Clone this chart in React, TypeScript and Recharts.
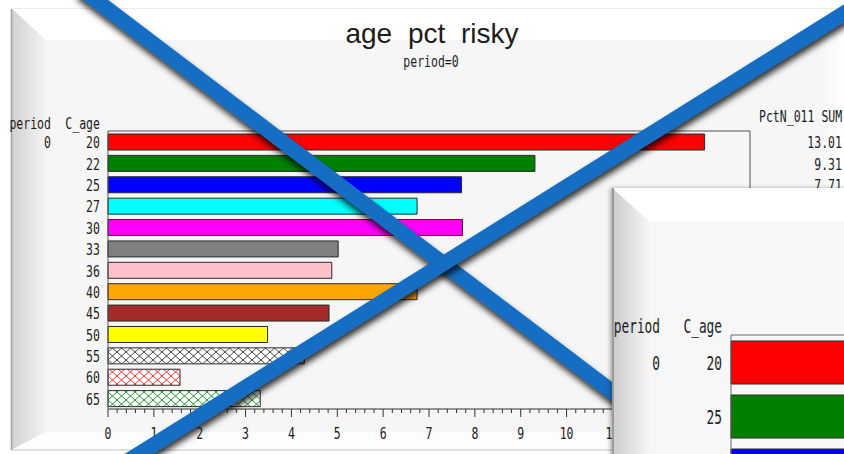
import React from 'react';
import { BarChart, Bar, XAxis, YAxis, Cell } from 'recharts';

// ---------- data ----------
const ages = ['20', '22', '25', '27', '30', '33', '36', '40', '45', '50', '55', '60', '65'];
const pctRisky = [13.01, 9.31, 7.71, 6.74, 7.73, 5.02, 4.88, 6.74, 4.82, 3.48, 4.28, 1.57, 3.32];
const barFills = [
  '#ff0000', '#008000', '#0000ff', '#00ffff', '#ff00ff', '#808080', '#ffc0cb',
  '#ffa500', '#a52a2a', '#ffff00', 'url(#hatchBlack)', 'url(#hatchRed)', 'url(#hatchGreen)',
];
const periods = ['0'];
const majorTicks = [0, 1, 2, 3, 4, 5, 6, 7, 8, 9, 10, 11, 12, 13, 14];
const minorPerMajor = 5;

const zoomAges = ['20', '25', '30'];
const zoomPct = [12.2, 8.4, 7.1];
const zoomFills = ['#ff0000', '#008000', '#0000ff'];

const title = 'age pct risky';
const subtitle = 'period=0';
const statHeader = 'PctN_011 SUM';

// ---------- helpers ----------
const MONO = "'DejaVu Sans Mono', monospace";
const allTicks: number[] = [];
majorTicks.forEach((t, i) => {
  if (i === majorTicks.length - 1) { allTicks.push(t); return; }
  for (let k = 0; k < minorPerMajor; k++) allTicks.push(Math.round((t + k / minorPerMajor) * 1000) / 1000);
});

const rows = ages.map((a, i) => ({ age: a, pct: pctRisky[i] }));
const zoomRows = zoomAges.map((a, i) => ({ age: a, pct: zoomPct[i] }));

function CText(props: { x: number; y: number; anchor?: string; size?: number; sx?: number; fill?: string; children: any }) {
  const { x, y, anchor = 'end', size = 16, sx = 0.72, fill = '#1c1c1c', children } = props;
  return (
    <text
      transform={`translate(${x},${y}) scale(${sx},1)`}
      textAnchor={anchor as any}
      fontFamily={MONO}
      fontSize={size}
      fill={fill}
    >
      {children}
    </text>
  );
}

const LeftTick = (p: any) => {
  const { x, y, payload, index } = p;
  return (
    <g>
      <CText x={x - 8} y={y + 6.5}>{payload.value}</CText>
      {index === 0 && <CText x={51} y={y + 6.5}>{periods[0]}</CText>}
    </g>
  );
};

const RightTick = (p: any) => {
  const { x, y, index } = p;
  return <CText x={x + 92} y={y + 6.5}>{pctRisky[index].toFixed(2)}</CText>;
};

const BottomTick = (p: any) => {
  const { x, y, payload } = p;
  const v = payload.value as number;
  const major = Math.abs(v - Math.round(v)) < 1e-6;
  return (
    <g>
      <line x1={x} x2={x} y1={y} y2={y + (major ? 8 : 4)} stroke="#333" strokeWidth={1} />
      {major && <CText x={x} y={y + 30} anchor="middle">{Math.round(v)}</CText>}
    </g>
  );
};

const PANEL_H = 266;
const ZoomTick = (p: any) => {
  const { x, y, payload, index } = p;
  if (y + 8 > PANEL_H) return <g />;
  return (
    <g>
      <CText x={x - 9} y={y + 7.5} size={20} sx={0.64}>{payload.value}</CText>
      {index === 0 && <CText x={48} y={y + 7.5} size={20} sx={0.64}>{periods[0]}</CText>}
    </g>
  );
};

export default function App() {
  return (
    <div style={{ position: 'absolute', left: 0, top: 0, width: 844, height: 454, overflow: 'hidden', background: '#ffffff' }}>
      <svg width={0} height={0} style={{ position: 'absolute' }}>
        <defs>
          <pattern id="hatchBlack" patternUnits="userSpaceOnUse" width={9} height={8}>
            <rect width={9} height={8} fill="#ffffff" />
            <path d="M0,0 L9,8 M9,0 L0,8" stroke="#444" strokeWidth={1} />
          </pattern>
          <pattern id="hatchRed" patternUnits="userSpaceOnUse" width={9} height={8}>
            <rect width={9} height={8} fill="#ffffff" />
            <path d="M0,0 L9,8 M9,0 L0,8" stroke="#ff3030" strokeWidth={1} />
          </pattern>
          <pattern id="hatchGreen" patternUnits="userSpaceOnUse" width={9} height={8}>
            <rect width={9} height={8} fill="#ffffff" />
            <path d="M0,0 L9,8 M9,0 L0,8" stroke="#209a30" strokeWidth={1} />
          </pattern>
          <linearGradient id="leftBevel" gradientUnits="userSpaceOnUse" x1={11} y1={0} x2={46} y2={0}>
            <stop offset="0" stopColor="#d0d0d0" />
            <stop offset="1" stopColor="#f4f4f4" />
          </linearGradient>
          <linearGradient id="rightBevel" gradientUnits="userSpaceOnUse" x1={818} y1={0} x2={844} y2={0}>
            <stop offset="0" stopColor="#f6f6f6" />
            <stop offset="1" stopColor="#ffffff" />
          </linearGradient>
          <linearGradient id="panelLeftBevel" gradientUnits="userSpaceOnUse" x1={0} y1={0} x2={38} y2={0}>
            <stop offset="0" stopColor="#cccccc" />
            <stop offset="1" stopColor="#f6f6f6" />
          </linearGradient>
          <filter id="lineShadow" filterUnits="userSpaceOnUse" x={-50} y={-50} width={950} height={560}>
            <feDropShadow dx={1} dy={5} stdDeviation={3} floodColor="#000" floodOpacity={0.8} />
          </filter>
        </defs>
      </svg>

      {/* main panel background with bevel */}
      <svg width={844} height={454} style={{ position: 'absolute', left: 0, top: 0 }}>
        <rect x={11} y={8} width={833} height={442} fill="#f6f6f6" />
        <polygon points="11,8 844,8 818,40 46,40" fill="#ffffff" />
        <polygon points="844,8 844,450 818,432 818,40" fill="url(#rightBevel)" />
        <polygon points="11,8 46,40 46,432 11,450" fill="url(#leftBevel)" />
        <polygon points="11,450 46,432 818,432 844,450" fill="#fdfdfd" />
        <line x1={11.5} y1={8} x2={11.5} y2={450} stroke="#a0a0a0" strokeWidth={1.5} />
        <line x1={11} y1={8.5} x2={844} y2={8.5} stroke="#ececec" strokeWidth={1} />
        <line x1={11} y1={450} x2={844} y2={450} stroke="#c4c4c4" strokeWidth={1} />
        <text x={432} y={43} textAnchor="middle" fontFamily="'Liberation Sans', Arial, sans-serif" fontSize={28} wordSpacing={8} fill="#1c1c1c">
          {title}
        </text>
        <CText x={431} y={67} anchor="middle">{subtitle}</CText>
        <CText x={51} y={129}>period</CText>
        <CText x={100} y={129}>C_age</CText>
        <CText x={759} y={122} anchor="start">{statHeader}</CText>
      </svg>

      {/* main chart */}
      <div style={{ position: 'absolute', left: 0, top: 0 }}>
        <BarChart
          width={844}
          height={454}
          data={rows}
          layout="vertical"
          margin={{ top: 130, right: 0, bottom: 0, left: 0 }}
          barCategoryGap={0}
        >
          <XAxis
            type="number"
            domain={[0, 14]}
            ticks={allTicks}
            interval={0}
            height={45}
            tickSize={0}
            tickMargin={0}
            tickLine={false}
            axisLine={{ stroke: '#333' }}
            tick={BottomTick}
          />
          <XAxis
            xAxisId="top"
            orientation="top"
            type="number"
            domain={[0, 14]}
            height={1}
            tick={false}
            tickLine={false}
            axisLine={{ stroke: '#555' }}
          />
          <YAxis
            type="category"
            dataKey="age"
            width={108}
            tickSize={0}
            tickMargin={0}
            tickLine={false}
            axisLine={{ stroke: '#555' }}
            tick={LeftTick}
            interval={0}
          />
          <YAxis
            yAxisId="right"
            orientation="right"
            type="category"
            dataKey="age"
            width={94}
            tickSize={0}
            tickMargin={0}
            tickLine={false}
            axisLine={{ stroke: '#555' }}
            tick={RightTick}
            interval={0}
          />
          <Bar dataKey="pct" barSize={16} stroke="#2a2a2a" strokeWidth={1} isAnimationActive={false}>
            {rows.map((r, i) => (
              <Cell key={r.age} fill={barFills[i]} />
            ))}
          </Bar>
        </BarChart>
      </div>

      {/* blue cross */}
      <svg width={844} height={454} style={{ position: 'absolute', left: 0, top: 0 }}>
        <line x1={80} y1={-12} x2={680} y2={443} stroke="#136dc4" strokeWidth={15} filter="url(#lineShadow)" />
        <line x1={862} y1={2} x2={121} y2={465} stroke="#136dc4" strokeWidth={15} filter="url(#lineShadow)" />
      </svg>

      {/* overlapping zoomed panel */}
      <div
        style={{
          position: 'absolute', left: 612, top: 188, width: 240, height: 270, overflow: 'hidden',
          background: '#f7f7f7', boxShadow: '-2px 0 4px rgba(0,0,0,0.3)',
        }}
      >
        <svg width={240} height={270} style={{ position: 'absolute', left: 0, top: 0 }}>
          <rect x={0} y={0} width={240} height={270} fill="#f7f7f7" />
          <polygon points="0,0 240,0 240,34 38,34" fill="#ffffff" />
          <polygon points="0,0 38,34 38,270 0,270" fill="url(#panelLeftBevel)" />
          <line x1={1} y1={0} x2={1} y2={270} stroke="#9a9a9a" strokeWidth={2} />
          <CText x={48} y={145} size={20} sx={0.64}>period</CText>
          <CText x={110} y={145} size={20} sx={0.64}>C_age</CText>
        </svg>
        <div style={{ position: 'absolute', left: 0, top: 0 }}>
          <BarChart
            width={1400}
            height={309}
            data={zoomRows}
            layout="vertical"
            margin={{ top: 146, right: 0, bottom: 0, left: 0 }}
            barCategoryGap={0}
          >
            <XAxis type="number" domain={[0, 14]} hide />
            <XAxis
              xAxisId="top"
              orientation="top"
              type="number"
              domain={[0, 14]}
              height={1}
              tick={false}
              tickLine={false}
              axisLine={{ stroke: '#666' }}
            />
            <YAxis
              type="category"
              dataKey="age"
              width={119}
              tickSize={0}
              tickMargin={0}
              tickLine={false}
              axisLine={{ stroke: '#666' }}
              tick={ZoomTick}
              interval={0}
            />
            <Bar dataKey="pct" barSize={43} stroke="#2a2a2a" strokeWidth={1} isAnimationActive={false}>
              {zoomRows.map((r, i) => (
                <Cell key={r.age} fill={zoomFills[i]} />
              ))}
            </Bar>
          </BarChart>
        </div>
      </div>
    </div>
  );
}
